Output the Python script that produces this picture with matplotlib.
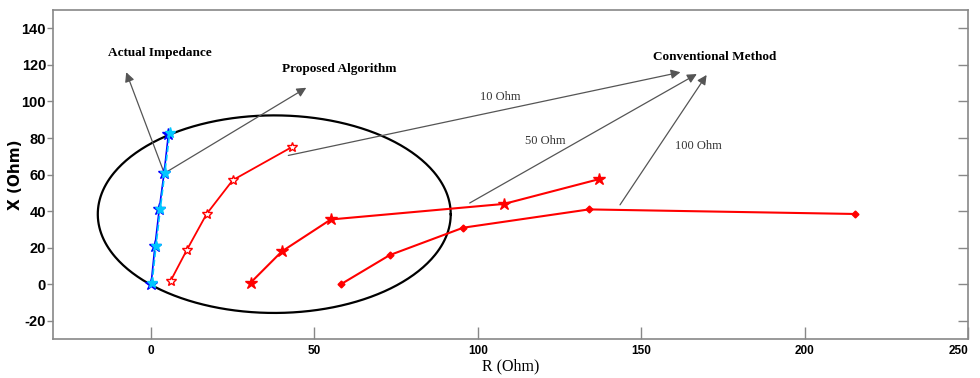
import numpy as np
import matplotlib
matplotlib.use("Agg")
import matplotlib.pyplot as plt

plt.rcParams['axes.unicode_minus'] = False

# impedance trajectories (R, X) in Ohm
actual_r = [0.0, 1.2, 2.5, 4.0, 5.3]
actual_x = [0.0, 21.0, 41.0, 61.0, 82.0]

proposed_r = [0.3, 1.5, 2.8, 4.2, 5.7]
proposed_x = [0.5, 21.0, 41.0, 61.0, 82.5]

conv10_r = [6.0, 11.0, 17.0, 25.0, 43.0]
conv10_x = [2.0, 19.0, 38.5, 57.0, 75.0]

conv50_r = [30.5, 40.0, 55.0, 108.0, 137.0]
conv50_x = [1.0, 18.0, 35.5, 44.0, 57.5]

conv100_r = [58.0, 73.0, 95.5, 134.0, 215.5]
conv100_x = [0.0, 16.0, 31.0, 41.0, 38.5]

# mho characteristic
mho_center = (37.7, 38.4)
mho_radius = 54.0

xticks = [0, 50, 100, 150, 200, 250]
yticks = [-20, 0, 20, 40, 60, 80, 100, 120, 140]

tick_font = ['Liberation Sans', 'DejaVu Sans']
serif = ['Liberation Serif', 'DejaVu Serif']

fig = plt.figure(figsize=(9.8, 3.78), dpi=100)
ax = fig.add_axes([0.0541, 0.1024, 0.9337, 0.8711])

t = np.linspace(0, 2 * np.pi, 400)
ax.plot(mho_center[0] + mho_radius * np.cos(t),
        mho_center[1] + mho_radius * np.sin(t), color='black', lw=1.6, zorder=2)

ax.plot(actual_r, actual_x, color='blue', lw=1.2, marker='*', ms=9, zorder=4)
ax.plot(proposed_r, proposed_x, color='#00c8ff', lw=1.2, ls='--', marker='*', ms=8,
        zorder=5)

ax.plot(conv10_r, conv10_x, color='red', lw=1.3, marker='*', ms=7,
        mfc='white', mec='red', zorder=3)
ax.plot(conv50_r, conv50_x, color='red', lw=1.5, marker='*', ms=9, zorder=3)
ax.plot(conv100_r, conv100_x, color='red', lw=1.5, marker='D', ms=3.5, zorder=3)

arrow = dict(arrowstyle='-|>', color='#555555', lw=0.9, mutation_scale=14,
             shrinkA=0, shrinkB=0)
ann_font = dict(family=serif, fontweight='bold', fontsize=9.5, ha='center')

ax.annotate('', xy=(-7.6, 116), xytext=(4.0, 61), arrowprops=arrow)
ax.text(2.8, 125, 'Actual Impedance', **ann_font)

ax.annotate('', xy=(47.5, 107.5), xytext=(4.3, 61), arrowprops=arrow)
ax.text(57.5, 116, 'Proposed Algorithm', **ann_font)

ax.annotate('', xy=(162, 116), xytext=(42, 70.5), arrowprops=arrow)
ax.annotate('', xy=(167, 115), xytext=(97.5, 44.5), arrowprops=arrow)
ax.annotate('', xy=(170, 114.5), xytext=(143.5, 43.5), arrowprops=arrow)
ax.text(172.5, 122.5, 'Conventional Method', **ann_font)

lab_font = dict(family=serif, fontsize=9, ha='center', va='center', color='#333333')
ax.text(107, 102.5, '10 Ohm', **lab_font)
ax.text(120.5, 78.5, '50 Ohm', **lab_font)
ax.text(167.5, 75.5, '100 Ohm', **lab_font)

ax.set_xlim(-30, 250)
ax.set_ylim(-30, 150)
ax.set_xticks(xticks)
ax.set_yticks(yticks)

for s in ax.spines.values():
    s.set_color('#888888')
    s.set_linewidth(1.2)

ax.tick_params(axis='x', direction='in', length=9, width=1, color='#888888',
               labelsize=8.5, pad=4)
ax.tick_params(axis='y', direction='out', length=4, width=1, color='#888888',
               labelsize=10.5, pad=1)
for lbl in ax.get_xticklabels() + ax.get_yticklabels():
    lbl.set_family(tick_font)
    lbl.set_fontweight('bold')
ax.get_xticklabels()[-1].set_horizontalalignment('right')

# inward ticks on the right side
ax2 = ax.twinx()
ax2.set_ylim(ax.get_ylim())
ax2.set_yticks(yticks)
ax2.tick_params(axis='y', direction='in', length=7, width=1, color='#888888',
                labelright=False)
for s in ax2.spines.values():
    s.set_visible(False)

ax.set_xlabel('R (Ohm)', family=serif, fontsize=11.5, labelpad=1)
ax.set_ylabel('X (Ohm)', family=['DejaVu Sans'], fontweight='bold', fontsize=11)
ax.yaxis.set_label_coords(-0.033, 0.5)

fig.savefig('out.png', dpi=100)
